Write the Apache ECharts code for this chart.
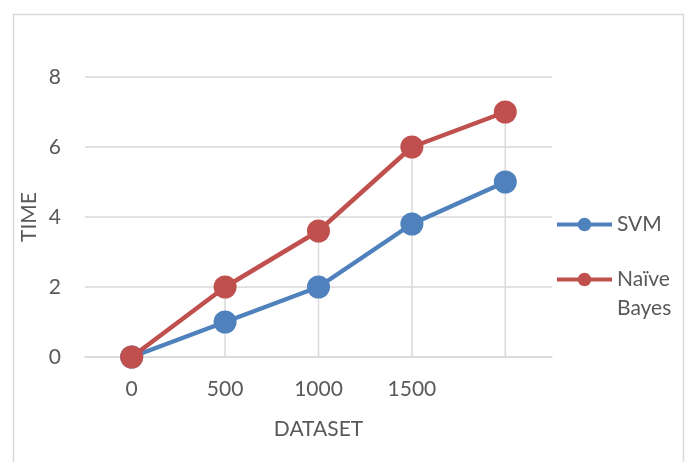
<!DOCTYPE html>
<html>
<head>
<meta charset="utf-8">
<title>TIME vs DATASET</title>
<script src="https://cdn.jsdelivr.net/npm/echarts@6/dist/echarts.min.js"></script>
<style>
  html, body { margin: 0; padding: 0; background: #ffffff; }
  #chart { width: 686px; height: 462px; }
</style>
</head>
<body>
<div id="chart"></div>
<script>
// Dataset sizes on the x axis (last point has no printed label)
const categories = ['0', '500', '1000', '1500', ''];
// Running time per classifier
const svmTimes = [0, 1, 2, 3.8, 5];
const naiveBayesTimes = [0, 2, 3.6, 6, 7];
// Value axis ticks
const yMin = 0, yMax = 8, yStep = 2;

// Drop lines: from the highest point of each category down to the axis
const dropHeights = categories.map((_, i) => Math.max(svmTimes[i], naiveBayesTimes[i]));

const FONT = 'Lato';
const TEXT = '#595959';
const LINE_H = 29;
const BLUE = '#4f81bd';
const RED = '#c0504d';

const legendBase = {
  orient: 'vertical',
  left: 555,
  padding: 0,
  itemWidth: 55,
  itemHeight: 17,
  itemGap: 0,
  lineStyle: { width: 4 },
  textStyle: { color: TEXT, fontSize: 21, fontFamily: FONT, lineHeight: LINE_H }
};

const chart = echarts.init(document.getElementById('chart'), null, { renderer: 'canvas' });

chart.setOption({
  animation: false,
  backgroundColor: '#ffffff',
  textStyle: { fontFamily: FONT },
  graphic: [{
    type: 'rect',
    shape: { x: 13.5, y: 14.5, width: 670, height: 470 },
    style: { fill: 'none', stroke: '#d9d9d9', lineWidth: 1.5 },
    silent: true,
    z: -10
  }],
  grid: { left: 85, right: 134, top: 77, bottom: 105 },
  legend: [
    Object.assign({}, legendBase, {
      top: 210,
      data: ['SVM']
    }),
    // second entry wraps onto two lines, first line level with the icon
    Object.assign({}, legendBase, {
      top: 236,
      data: ['Naïve Bayes'],
      formatter: name => '\n' + name.replace(' ', '\n')
    })
  ],
  xAxis: {
    type: 'category',
    data: categories,
    boundaryGap: true,
    name: 'DATASET',
    nameLocation: 'middle',
    nameGap: 62,
    nameMoveOverlap: false,
    nameTextStyle: { color: TEXT, fontSize: 21, fontFamily: FONT },
    axisLine: { show: true, lineStyle: { color: '#d9d9d9', width: 1.5 } },
    axisTick: { show: false },
    axisLabel: { color: TEXT, fontSize: 21, fontFamily: FONT, margin: 22 },
    splitLine: { show: false }
  },
  yAxis: {
    type: 'value',
    min: yMin,
    max: yMax,
    interval: yStep,
    name: 'TIME',
    nameLocation: 'middle',
    nameGap: 45,
    nameMoveOverlap: false,
    nameTextStyle: { color: TEXT, fontSize: 21, fontFamily: FONT },
    axisLine: { show: false },
    axisTick: { show: false },
    axisLabel: { color: TEXT, fontSize: 21, fontFamily: FONT, margin: 24 },
    splitLine: { show: true, lineStyle: { color: '#d9d9d9', width: 1.5 } }
  },
  series: [
    {
      name: 'drop lines',
      type: 'bar',
      data: dropHeights,
      barWidth: 1.5,
      itemStyle: { color: '#d9d9d9' },
      silent: true,
      z: 1
    },
    {
      name: 'SVM',
      type: 'line',
      data: svmTimes,
      symbol: 'circle',
      symbolSize: 23,
      color: BLUE,
      lineStyle: { width: 4.5, color: BLUE },
      itemStyle: { color: BLUE },
      z: 3
    },
    {
      name: 'Naïve Bayes',
      type: 'line',
      data: naiveBayesTimes,
      symbol: 'circle',
      symbolSize: 23,
      color: RED,
      lineStyle: { width: 4.5, color: RED },
      itemStyle: { color: RED },
      z: 4
    }
  ]
});
</script>
</body>
</html>
